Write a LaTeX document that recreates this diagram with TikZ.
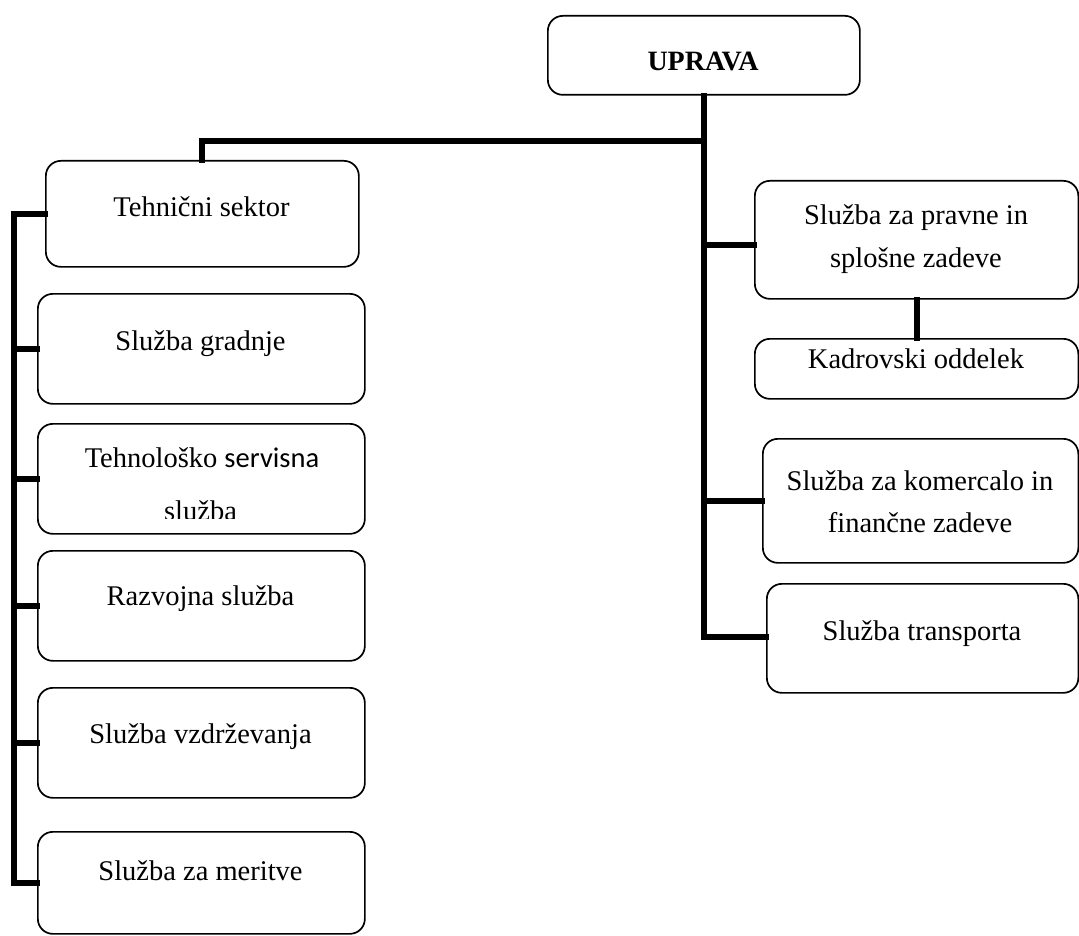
\documentclass[tikz,border=0pt]{standalone}
\usepackage{fontspec}
\setmainfont{Liberation Serif}
\newfontfamily\calfont{Carlito}
\usetikzlibrary{calc}
\tikzset{
  box/.style={draw, line width=1.7pt, rounded corners=15pt, inner sep=0pt, anchor=north west},
  conn/.style={line width=6pt, line cap=rect},
  lbl/.style={anchor=base, inner sep=0pt, font=\fontsize{28.5}{42}\selectfont},
}
\newcommand{\bx}[5]{\node[box, minimum width=#3-#2, minimum height=#5-#4] (#1) at (#2,#4) {};}
\begin{document}
\begin{tikzpicture}[x=1pt,y=-1pt]
\useasboundingbox (0,0) rectangle (1079,936);
% boxes
\bx{upr}{547}{859}{15}{94}
\bx{tech}{45}{358}{160}{266}
\bx{grad}{37}{364}{293}{403}
\bx{tehn}{37}{364}{423}{533}
\bx{razv}{37}{364}{550}{660}
\bx{vzdr}{37}{364}{687}{797}
\bx{meri}{37}{364}{831}{933}
\bx{prav}{754}{1077.5}{180}{298}
\bx{kadr}{754}{1077.5}{338}{398}
\bx{kome}{762}{1077.5}{438}{562}
\bx{tran}{766}{1077.5}{583}{692}
% texts
\node[lbl, font=\fontsize{28}{42}\selectfont\bfseries] (tupr) at (703,71) {UPRAVA};
\node[lbl] (ttech) at (201.5,217) {Tehnični sektor};
\node[lbl] (tgrad) at (200.5,350) {Služba gradnje};
\node[lbl] (ttehn) at (202,467) {Tehnološko {\calfont servisna}};
\begin{scope}
\clip (37,498) rectangle (364,518);
\node[lbl] (ttehn2) at (200.5,520) {služba};
\end{scope}
\node[lbl] (trazv) at (200.5,605) {Razvojna služba};
\node[lbl] (tvzdr) at (200.5,743) {Služba vzdrževanja};
\node[lbl] (tmeri) at (200.5,880) {Služba za meritve};
\node[lbl] (tprav1) at (916,225) {Služba za pravne in};
\node[lbl] (tprav2) at (916,267) {splošne zadeve};
\node[lbl] (tkadr) at (916,368) {Kadrovski oddelek};
\node[lbl] (tkome1) at (920,490) {Služba za komercalo in};
\node[lbl] (tkome2) at (920,532) {finančne zadeve};
\node[lbl] (ttran) at (922,640) {Služba transporta};
% connectors
\coordinate (hy) at (0,141);
\coordinate (L) at (14,0);
\draw[conn] (upr.south) |- ($(tran.west)+(0,-1)$);
\draw[conn] (upr.south |- hy) -| (tech.north);
\draw[conn] (upr.south |- prav.west) ++(0,5) -- ($(prav.west)+(0,5)$);
\draw[conn] (upr.south |- kome.west) -- (kome.west);
\draw[conn] (prav.south -| kadr.north) -- (kadr.north);
\draw[conn] (tech.west) -| (L |- meri.west) -- (meri.west);
\foreach \n in {grad,tehn,razv,vzdr}{
  \draw[conn] (L |- \n.west) -- (\n.west);
}
\end{tikzpicture}
\end{document}
